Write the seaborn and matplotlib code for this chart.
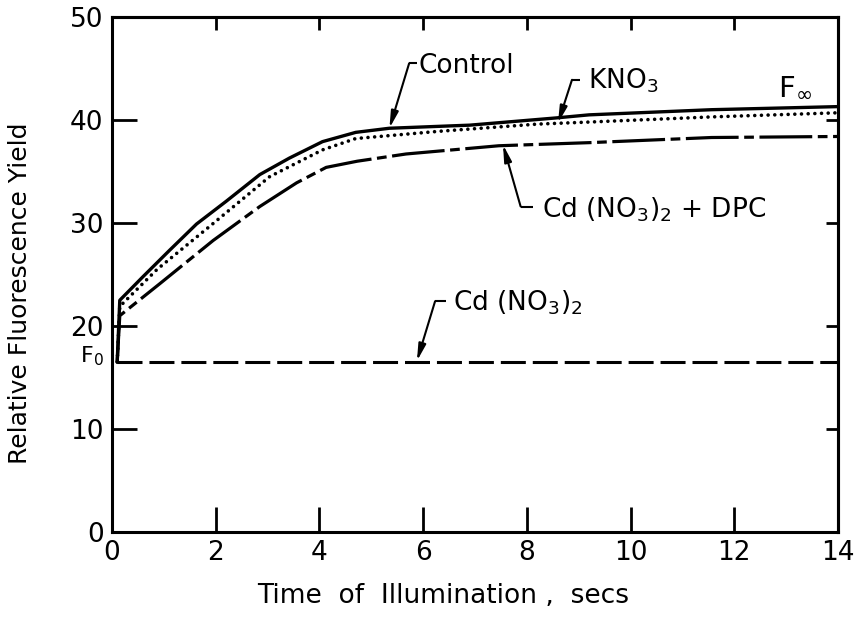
import numpy as np
import pandas as pd
import matplotlib
matplotlib.use("Agg")
import matplotlib.pyplot as plt
import seaborn as sns

# ---------------- data ----------------
t_control = [0.1, 0.15, 0.6, 1.1, 1.63, 2.2, 2.85, 3.42, 4.06, 4.7, 5.35, 6.9, 8.56, 9.2, 11.56, 14.0]
y_control = [16.5, 22.5, 24.8, 27.3, 29.9, 32.1, 34.7, 36.3, 37.9, 38.8, 39.2, 39.5, 40.2, 40.5, 41.0, 41.3]

t_kno3 = [0.1, 0.15, 0.87, 1.89, 3.04, 4.06, 4.7, 6.3, 8.2, 9.2, 11.56, 14.0]
y_kno3 = [16.5, 21.9, 25.5, 29.7, 34.5, 37.1, 38.2, 38.9, 39.6, 39.8, 40.3, 40.7]

t_dpc = [0.1, 0.15, 0.92, 1.95, 2.85, 3.56, 4.13, 4.73, 5.67, 7.46, 9.2, 11.56, 14.0]
y_dpc = [16.5, 21.0, 24.1, 28.3, 31.6, 33.9, 35.4, 36.0, 36.7, 37.5, 37.8, 38.3, 38.4]

t_cd = [0.1, 14.0]
y_cd = [16.5, 16.5]

x_ticks = [0, 2, 4, 6, 8, 10, 12, 14]
x_tick_labels = ["0", "2", "4", "6", "8", "10", "12", "14"]
y_ticks = [0, 10, 20, 30, 40, 50]
y_tick_labels = ["0", "10", "20", "30", "40", "50"]

x_label = "Time  of  Illumination ,  secs"
y_label = "Relative Fluorescence Yield"

# ---------------- style ----------------
sns.set_style("ticks")
plt.rcParams["font.family"] = ["DejaVu Sans"]
plt.rcParams["mathtext.fontset"] = "dejavusans"
plt.rcParams["lines.scale_dashes"] = False
for k in ["text.color", "axes.labelcolor", "xtick.color", "ytick.color",
          "axes.edgecolor"]:
    plt.rcParams[k] = "black"

fig = plt.figure(figsize=(8.59, 6.28), dpi=100)
ax = fig.add_axes([112 / 859, 1 - 532 / 628, (838 - 112) / 859, (532 - 17) / 628])

def draw(t, y, **kw):
    df = pd.DataFrame({"t": t, "y": y})
    sns.lineplot(data=df, x="t", y="y", ax=ax, estimator=None, sort=False,
                 color="black", legend=False, **kw)
    return ax.lines[-1]

l_cd = draw(t_cd, y_cd, linewidth=2.2)
l_cd.set_dashes((18, 5))
l_cd.set_dash_capstyle("butt")

l_dpc = draw(t_dpc, y_dpc, linewidth=2.3)
l_dpc.set_dashes((38, 4, 7, 4))
l_dpc.set_dash_capstyle("butt")

l_kno = draw(t_kno3, y_kno3, linewidth=2.6)
l_kno.set_dashes((0.01, 4.8))
l_kno.set_dash_capstyle("round")

l_ctl = draw(t_control, y_control, linewidth=2.4)
l_ctl.set_solid_joinstyle("round")

ax.set_xlim(0, 14)
ax.set_ylim(0, 50)
ax.set_xticks(x_ticks)
ax.set_xticklabels(x_tick_labels)
ax.set_yticks(y_ticks)
ax.set_yticklabels(y_tick_labels)
ax.tick_params(axis="both", direction="in", length=18, width=2.0,
               labelsize=19, pad=6, colors="black")
for sp in ax.spines.values():
    sp.set_linewidth(2.2)
    sp.set_visible(True)
    sp.set_color("black")

secx = ax.secondary_xaxis("top")
secx.set_xticks(x_ticks[1:-1])
secx.tick_params(direction="in", length=9, width=2.0, labeltop=False, colors="black")
secx.spines["top"].set_linewidth(2.2)
secy = ax.secondary_yaxis("right")
secy.set_yticks(y_ticks[1:-1])
secy.tick_params(direction="in", length=9, width=2.0, labelright=False, colors="black")
secy.spines["right"].set_linewidth(2.2)

ax.set_xlabel(x_label, fontsize=19)
ax.set_ylabel(y_label, fontsize=18)
ax.xaxis.set_label_coords(0.456, -0.10)
ax.yaxis.set_label_coords(-0.11, 0.464)

# ---------------- annotations ----------------
arrow = dict(arrowstyle="-|>,head_length=1.0,head_width=0.22", lw=1.5,
             color="black", shrinkA=0, shrinkB=0, mutation_scale=10)

def label(text, txy, hook_end, corner, tip):
    ax.plot([hook_end[0], corner[0]], [hook_end[1], corner[1]], color="black",
            lw=1.5, solid_capstyle="butt")
    ax.annotate("", xy=tip, xytext=corner, arrowprops=arrow)
    ax.text(txy[0], txy[1], text, fontsize=19, ha="left", va="baseline")

label("Control", (5.92, 44.6), (5.88, 45.5), (5.73, 45.5), (5.35, 39.2))
label("KNO$_3$", (9.18, 43.1), (9.03, 43.9), (8.87, 43.9), (8.6, 39.7))
label("Cd (NO$_3$)$_2$ + DPC", (8.29, 30.5), (8.12, 31.6), (7.88, 31.6), (7.54, 37.6))
label("Cd (NO$_3$)$_2$", (6.58, 21.5), (6.45, 22.4), (6.23, 22.4), (5.88, 16.6))

ax.text(12.84, 42.4, r"F$_\infty$", fontsize=21, ha="left", va="baseline")
ax.text(-0.62, 18.2, r"F$_0$", fontsize=16, ha="left", va="top", clip_on=False)

fig.savefig("out.png", dpi=100)
